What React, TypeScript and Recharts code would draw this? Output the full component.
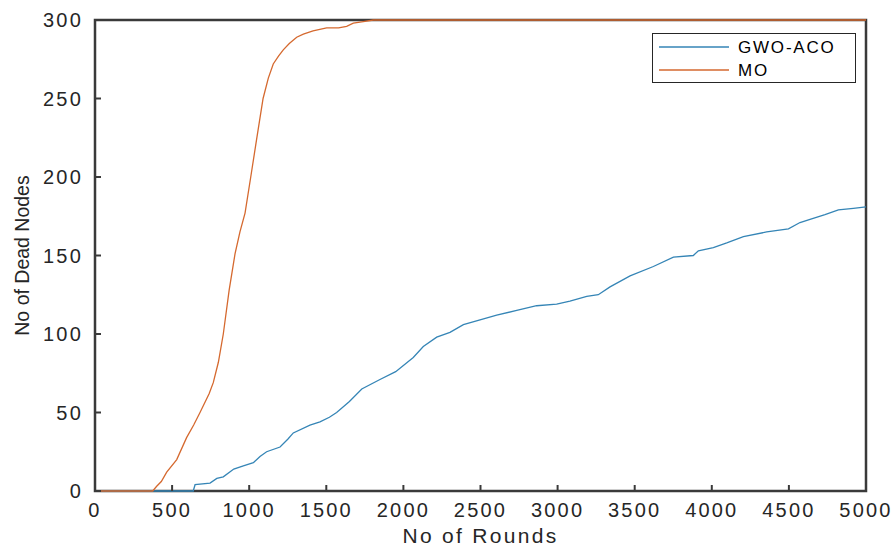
import { LineChart, Line, XAxis, YAxis, Legend, ReferenceArea } from "recharts";

// rounds / dead-node counts
const roundsGwo = [0, 637, 649, 746, 790, 832, 900, 962, 1027, 1070, 1113, 1200, 1250, 1286, 1394, 1459, 1520, 1567, 1650, 1730, 1848, 1950, 2064, 2129, 2216, 2302, 2389, 2497, 2605, 2735, 2864, 2994, 3080, 3189, 3264, 3340, 3470, 3621, 3751, 3880, 3913, 4010, 4097, 4205, 4356, 4497, 4572, 4637, 4734, 4821, 4918, 5000];
const deadGwo = [0, 0, 4, 5, 8, 9, 14, 16, 18, 22, 25, 28, 33, 37, 42, 44, 47, 50, 57, 65, 71, 76, 85, 92, 98, 101, 106, 109, 112, 115, 118, 119, 121, 124, 125, 130, 137, 143, 149, 150, 153, 155, 158, 162, 165, 167, 171, 173, 176, 179, 180, 181];

const roundsMo = [0, 374, 400, 430, 465, 530, 594, 640, 681, 740, 767, 800, 832, 870, 908, 940, 973, 1010, 1048, 1090, 1124, 1156, 1190, 1221, 1260, 1308, 1351, 1414, 1502, 1580, 1632, 1675, 1740, 1805, 5000];
const deadMo = [0, 0, 3, 6, 12, 20, 34, 42, 50, 62, 69, 82, 100, 128, 151, 165, 177, 200, 224, 250, 263, 272, 277, 281, 285, 289, 291, 293, 295, 295, 296, 298, 299, 300, 300];

const xTicks = [0, 500, 1000, 1500, 2000, 2500, 3000, 3500, 4000, 4500, 5000];
const yTicks = [0, 50, 100, 150, 200, 250, 300];

const seriesNames = ["GWO-ACO", "MO"];
const colors = ["#3585b6", "#d5692f"];

const gwoData = roundsGwo.map((x, i) => ({ x, y: deadGwo[i] }));
const moData = roundsMo.map((x, i) => ({ x, y: deadMo[i] }));

const font = "'Liberation Sans', Arial, sans-serif";
const axisColor = "#262626";
const frameColor = "#3a3a3a";
const TICK = 6;
const GAP = 12;

// matlab style: tick marks point into the box, labels sit outside
const BottomTick = (p: any) => (
  <g>
    <path d={`M${p.x},${p.y - GAP}V${p.y - GAP - TICK}`} stroke={frameColor} strokeWidth={2} />
    <text x={p.x} y={p.y} dy="0.71em" textAnchor="middle" fontSize={20} letterSpacing={2.2} fill={axisColor} fontFamily={font}>
      {p.payload.value}
    </text>
  </g>
);
const LeftTick = (p: any) => (
  <g>
    <path d={`M${p.x + GAP},${p.y}H${p.x + GAP + TICK}`} stroke={frameColor} strokeWidth={2} />
    <text x={p.x} y={p.y} dy="0.36em" textAnchor="end" fontSize={20} letterSpacing={2.2} fill={axisColor} fontFamily={font}>
      {p.payload.value}
    </text>
  </g>
);
const TopTick = (p: any) => <path d={`M${p.x},${p.y}V${p.y + TICK}`} stroke={frameColor} strokeWidth={2} />;
const RightTick = (p: any) => <path d={`M${p.x},${p.y}H${p.x - TICK}`} stroke={frameColor} strokeWidth={2} />;

function LegendBox() {
  return (
    <div
      style={{
        border: "1px solid #262626",
        background: "#fff",
        width: 204,
        height: 50,
        boxSizing: "border-box",
        fontFamily: font,
      }}
    >
      <svg width={202} height={48} style={{ display: "block" }}>
        {seriesNames.map((n, i) => (
          <g key={n}>
            <line x1={6} x2={76} y1={13 + i * 23} y2={13 + i * 23} stroke={colors[i]} strokeWidth={1.3} />
            <text x={85} y={19 + i * 23} fontSize={17} letterSpacing={1.8} fill="#000">
              {n}
            </text>
          </g>
        ))}
      </svg>
    </div>
  );
}

export default function App() {
  return (
    <div style={{ position: "fixed", left: 0, top: 0, background: "#fff" }}>
      <LineChart width={895} height={550} margin={{ top: 20, right: 29, bottom: 0, left: 0 }}>
        <XAxis
          xAxisId="b"
          type="number"
          dataKey="x"
          domain={[0, 5000]}
          ticks={xTicks}
          height={59}
          tickSize={0}
          tickMargin={GAP}
          axisLine={false}
          tickLine={false}
          tick={BottomTick}
          label={(props: any) => {
            const vb = props.viewBox;
            return (
              <text x={vb.x + vb.width / 2} y={vb.y + 52} textAnchor="middle" fontSize={21} letterSpacing={2.3} fill={axisColor} fontFamily={font}>
                No of Rounds
              </text>
            );
          }}
        />
        <XAxis xAxisId="t" orientation="top" type="number" dataKey="x" domain={[0, 5000]} ticks={xTicks} height={0} tickSize={0} tickMargin={0} axisLine={false} tickLine={false} tick={TopTick} />
        <YAxis
          yAxisId="l"
          type="number"
          domain={[0, 300]}
          ticks={yTicks}
          width={95}
          tickSize={0}
          tickMargin={GAP}
          axisLine={false}
          tickLine={false}
          tick={LeftTick}
          label={(props: any) => {
            const vb = props.viewBox;
            const cx = 22;
            const cy = vb.y + vb.height / 2;
            return (
              <text x={cx} y={cy} transform={`rotate(-90 ${cx} ${cy})`} textAnchor="middle" dominantBaseline="central" fontSize={19.5} fill={axisColor} fontFamily={font}>
                No of Dead Nodes
              </text>
            );
          }}
        />
        <YAxis yAxisId="r" orientation="right" type="number" domain={[0, 300]} ticks={yTicks} width={0} tickSize={0} tickMargin={0} axisLine={false} tickLine={false} tick={RightTick} />
        {/* box around the plot area */}
        <ReferenceArea xAxisId="b" yAxisId="l" x1={0} x2={5000} y1={0} y2={300} fill="none" stroke={frameColor} strokeWidth={2.5} ifOverflow="visible" />
        <Legend
          layout="horizontal"
          verticalAlign="middle"
          align="center"
          content={() => <LegendBox />}
          wrapperStyle={{ left: 652, top: 33, width: 204, height: 50 }}
        />
        <Line
          xAxisId="b"
          yAxisId="l"
          data={gwoData}
          dataKey="y"
          name={seriesNames[0]}
          stroke={colors[0]}
          strokeWidth={1.3}
          dot={false}
          type="linear"
          isAnimationActive={false}
        />
        <Line
          xAxisId="b"
          yAxisId="l"
          data={moData}
          dataKey="y"
          name={seriesNames[1]}
          stroke={colors[1]}
          strokeWidth={1.3}
          dot={false}
          type="linear"
          isAnimationActive={false}
        />
      </LineChart>
    </div>
  );
}
